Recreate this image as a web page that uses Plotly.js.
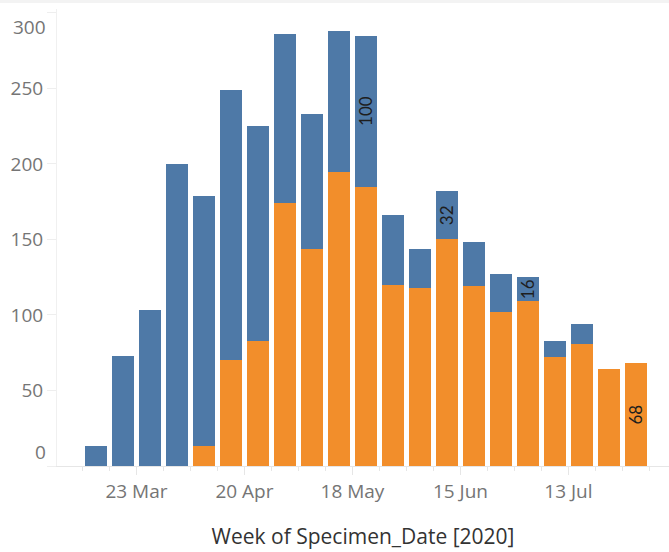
<!DOCTYPE html>
<html><head><meta charset="utf-8">
<script src="https://cdn.plot.ly/plotly-3.0.1.min.js"></script>
<style>
html,body{margin:0;padding:0;background:#fff;}
#chart{position:absolute;left:0;top:0;width:669px;height:552px;}
#strip{position:absolute;left:0;top:0;width:669px;height:3px;background:#f3f3f3;z-index:5;}
</style>
</head><body>
<div id="chart"></div><div id="strip"></div>
<script>
// Week start dates (Mondays)
const weekStarts = ['2020-03-09','2020-03-16','2020-03-23','2020-03-30','2020-04-06','2020-04-13','2020-04-20',
  '2020-04-27','2020-05-04','2020-05-11','2020-05-18','2020-05-25','2020-06-01','2020-06-08','2020-06-15',
  '2020-06-22','2020-06-29','2020-07-06','2020-07-13','2020-07-20','2020-07-27'];
// Orange (bottom) series
const orangeValues = [0,0,0,0,13,70,83,174,144,195,185,120,118,150,119,102,109,72,81,64,68];
// Blue (top) series
const blueValues = [13,73,103,200,166,179,142,112,89,93,100,46,26,32,29,25,16,11,13,0,0];
// Mark labels
const orangeLabels = ['','','','','','','','','','','','','','','','','','','','','68'];
const blueLabels = ['','','','','','','','','','','100','','','32','','','16','','','',''];
// Axis ticks
const xTickDates = ['2020-03-23','2020-04-20','2020-05-18','2020-06-15','2020-07-13'];
const xTickLabels = ['23 Mar','20 Apr','18 May','15 Jun','13 Jul'];
const yTickVals = [0,50,100,150,200,250,300];
const yTickLabels = ['0','50','100','150','200','250','300'];

const WEEK = 7*24*3600*1000;
const tickFontFamily = '"Open Sans", Lato, sans-serif';
const labelFontFamily = 'Lato, "Open Sans", sans-serif';
const tickFont = {family: tickFontFamily, size: 19, color: '#757575'};

const common = {
  type: 'bar', x: weekStarts,
  xperiod: WEEK, xperiod0: '2020-03-09', xperiodalignment: 'middle',
  textposition: 'inside', insidetextanchor: 'middle', textangle: -90,
  constraintext: 'none', cliponaxis: false,
  textfont: {family: labelFontFamily, size: 17, color: '#1e1e1e'},
  hoverinfo: 'x+y'
};

const traces = [
  Object.assign({}, common, {y: orangeValues, text: orangeLabels, name: 'Orange', marker: {color: '#f28e2b', line: {width: 0}}}),
  Object.assign({}, common, {y: blueValues, text: blueLabels, name: 'Blue', marker: {color: '#4e79a7', line: {width: 0}}})
];

// Tableau keeps the end labels inside the plot: middle labels are axis tick labels,
// the first/last are placed inside the range with anchors.
const yTickTextShown = yTickLabels.map((t, i) => (i === 0 || i === yTickLabels.length - 1) ? '' : t);
const endLabelAnnotations = [
  {xref: 'paper', x: 0, xanchor: 'right', xshift: -9, yref: 'y', y: yTickVals[0], yanchor: 'bottom', yshift: -1,
   text: yTickLabels[0], showarrow: false, font: tickFont},
  {xref: 'paper', x: 0, xanchor: 'right', xshift: -9, yref: 'y', y: yTickVals[yTickVals.length - 1], yanchor: 'top', yshift: 1,
   text: yTickLabels[yTickLabels.length - 1], showarrow: false, font: tickFont}
];

const layout = {
  width: 669, height: 552,
  margin: {l: 57, r: 0, t: 9, b: 86, pad: 0},
  barmode: 'stack', bargap: 0.185,
  showlegend: false,
  paper_bgcolor: '#fff', plot_bgcolor: '#fff',
  uniformtext: {mode: 'show', minsize: 17},
  annotations: endLabelAnnotations,
  xaxis: {
    type: 'date',
    range: ['2020-03-02 09:30', '2020-08-08 02:00'],
    tickmode: 'array', tickvals: xTickDates, ticktext: xTickLabels,
    ticks: 'outside', ticklen: 8, tickcolor: '#e6e6e6', tickwidth: 1,
    minor: {dtick: WEEK, tick0: '2020-03-09', ticks: 'outside', ticklen: 4, tickcolor: '#e6e6e6', showgrid: false},
    showline: true, linecolor: '#e6e6e6', linewidth: 1,
    showgrid: false, zeroline: false,
    tickfont: tickFont,
    title: {text: 'Week of Specimen_Date [2020]', font: {family: tickFontFamily, size: 21, color: '#333333'}, standoff: 26},
    automargin: false, fixedrange: true
  },
  yaxis: {
    range: [0, 302.6],
    tickmode: 'array', tickvals: yTickVals, ticktext: yTickTextShown,
    ticks: 'outside', ticklen: 9, tickcolor: '#eeeeee', tickwidth: 1,
    showline: true, linecolor: '#f0f0f0', linewidth: 1,
    showgrid: false, zeroline: false,
    tickfont: tickFont,
    automargin: false, fixedrange: true
  }
};

Plotly.newPlot('chart', traces, layout, {displayModeBar: false, staticPlot: true});
</script>
</body></html>
